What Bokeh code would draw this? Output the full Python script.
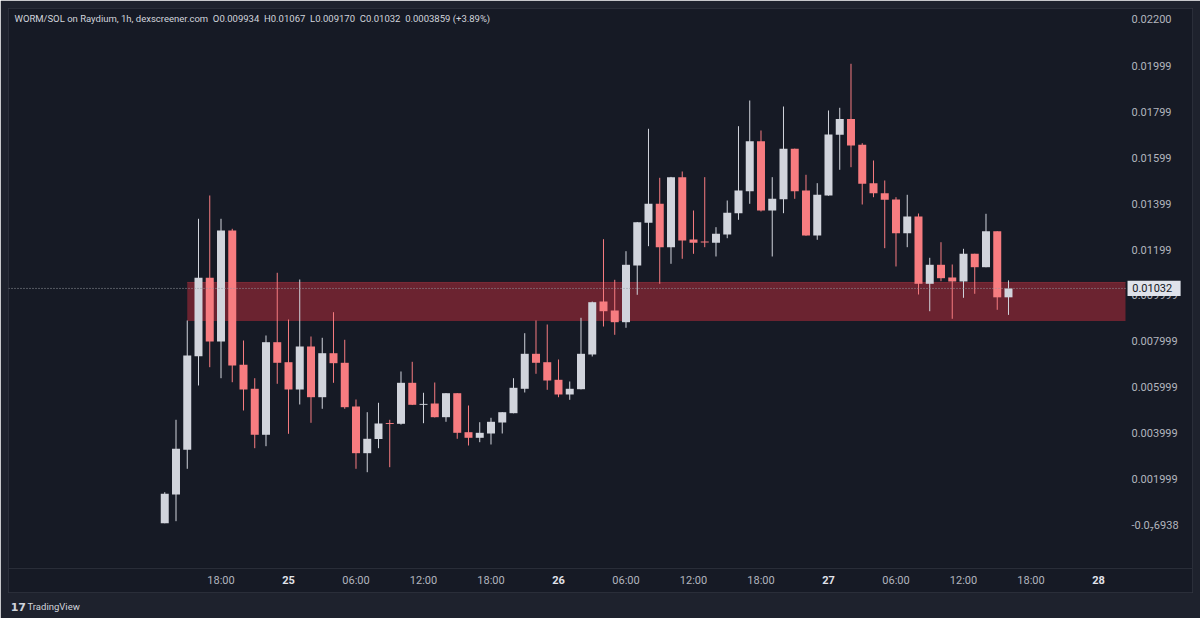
from bokeh.plotting import figure
from bokeh.models import Range1d, FixedTicker, Span, Label, BoxAnnotation, ColumnDataSource
from bokeh.core.properties import value
from bokeh.embed import file_html
from bokeh.resources import INLINE

# hours relative to 25th 00:00 (1h candles, 24th 13:00 .. 27th 16:00)
hours = list(range(-11, 65))

opens = [0.000113, 0.001361, 0.003304, 0.007374, 0.010783, 0.008013, 0.012839, 0.007000, 0.005957, 0.003957,
         0.007983, 0.007113, 0.005926, 0.007796, 0.005591, 0.007504, 0.007087, 0.005187, 0.003157, 0.003774,
         0.004470, 0.004435, 0.006217, 0.005260, 0.005317, 0.004722, 0.005765, 0.004070, 0.003826, 0.004013,
         0.004491, 0.004896, 0.005957, 0.007478, 0.007113, 0.006348, 0.005709, 0.005939, 0.007448, 0.009752,
         0.009361, 0.008852, 0.011317, 0.013174, 0.014000, 0.012113, 0.015157, 0.012448, 0.012361, 0.012304,
         0.012665, 0.013591, 0.014548, 0.016722, 0.013709, 0.014200, 0.016391, 0.014578, 0.012622, 0.014361,
         0.017000, 0.017687, 0.016565, 0.014896, 0.014461, 0.014187, 0.012722, 0.013448, 0.010522, 0.011348,
         0.010796, 0.010622, 0.011826, 0.011243, 0.012809, 0.009934]
highs = [0.001461, 0.004609, 0.008926, 0.013348, 0.014361, 0.013348, 0.012913, 0.008057, 0.006417, 0.008274,
         0.011000, 0.008970, 0.010709, 0.008230, 0.008174, 0.009287, 0.008087, 0.005491, 0.004939, 0.005348,
         0.004609, 0.006709, 0.007130, 0.005783, 0.006230, 0.005770, 0.005770, 0.005230, 0.004504, 0.004696,
         0.004945, 0.006417, 0.008374, 0.008926, 0.008752, 0.007230, 0.006274, 0.009043, 0.009750, 0.012461,
         0.010696, 0.011939, 0.013210, 0.017261, 0.015130, 0.015170, 0.015404, 0.013709, 0.015157, 0.012983,
         0.014143, 0.017374, 0.018491, 0.017187, 0.015157, 0.018230, 0.016400, 0.015261, 0.014896, 0.018057,
         0.018174, 0.020087, 0.016635, 0.015883, 0.015013, 0.014287, 0.014391, 0.013578, 0.011652, 0.012330,
         0.011361, 0.012043, 0.011830, 0.013565, 0.012810, 0.010670]
lows = [0.000110, 0.000200, 0.002478, 0.006100, 0.006896, 0.006417, 0.006243, 0.005013, 0.003374, 0.003461,
        0.006174, 0.004000, 0.005274, 0.004478, 0.005087, 0.006217, 0.005087, 0.002478, 0.002330, 0.003374,
        0.002548, 0.004400, 0.005250, 0.004461, 0.004710, 0.004522, 0.003783, 0.003491, 0.003635, 0.003535,
        0.004013, 0.004890, 0.005796, 0.006609, 0.005913, 0.005591, 0.005478, 0.005930, 0.007361, 0.008665,
        0.008304, 0.008609, 0.010043, 0.012157, 0.010522, 0.011391, 0.011609, 0.011826, 0.012113, 0.011709,
        0.012504, 0.013304, 0.014000, 0.013665, 0.011709, 0.013591, 0.014217, 0.012610, 0.012435, 0.014350,
        0.015478, 0.015591, 0.013970, 0.014287, 0.012070, 0.011274, 0.012113, 0.010057, 0.009330, 0.010635,
        0.009000, 0.009913, 0.010087, 0.011240, 0.009391, 0.009170]
closes = [0.001391, 0.003348, 0.007404, 0.010783, 0.008013, 0.012839, 0.006970, 0.005926, 0.003957, 0.007983,
          0.007087, 0.005926, 0.007796, 0.005591, 0.007504, 0.007070, 0.005157, 0.003157, 0.003783, 0.004448,
          0.004430, 0.006217, 0.005261, 0.005300, 0.004722, 0.005765, 0.004043, 0.003826, 0.004043, 0.004522,
          0.004939, 0.006000, 0.007478, 0.007087, 0.006317, 0.005709, 0.005957, 0.007478, 0.009722, 0.009330,
          0.008852, 0.011348, 0.013200, 0.014000, 0.012113, 0.015157, 0.012404, 0.012304, 0.012317, 0.012696,
          0.013609, 0.014578, 0.016722, 0.013709, 0.014217, 0.016391, 0.014548, 0.012622, 0.014391, 0.017013,
          0.017687, 0.016535, 0.014870, 0.014461, 0.014174, 0.012722, 0.013448, 0.010522, 0.011348, 0.010765,
          0.010622, 0.011826, 0.011243, 0.012809, 0.009934, 0.010320]

zone_start_hour = -9
zone_top = 0.01058
zone_bottom = 0.00890
last_price = 0.01032

x_tick_hours = [-6, 0, 6, 12, 18, 24, 30, 36, 42, 48, 54, 60, 66, 72]
x_tick_labels = ["18:00", "25", "06:00", "12:00", "18:00", "26", "06:00", "12:00", "18:00", "27",
                 "06:00", "12:00", "18:00", "28"]
day_ticks = [0, 24, 48, 72]
day_labels = ["25", "26", "27", "28"]

y_tick_values = [-0.00000006938, 0.001999, 0.003999, 0.005999, 0.007999, 0.009999,
                 0.01199, 0.01399, 0.01599, 0.01799, 0.01999, 0.022]
y_tick_labels = ["-0.0\u20876938", "0.001999", "0.003999", "0.005999", "0.007999", "0.009999",
                 "0.01199", "0.01399", "0.01599", "0.01799", "0.01999", "0.02200"]

SP = "\u00a0\u00a0"
title_text = ("WORM/SOL on Raydium, 1h, dexscreener.com" + SP + "O0.009934" + SP + "H0.01067" + SP +
              "L0.009170" + SP + "C0.01032" + SP + "0.0003859 (+3.89%)")

UP = "#d1d4dc"
DOWN = "#f77c80"
PANEL = "#161a25"
OUTER = "#1e222d"
TXT = "#b2b5be"
FONT = "Roboto"

# layout of the chart panel in data units
X0, X1 = -24.889, 80.356        # whole panel (chart + price scale)
PLOT_RIGHT = 74.4               # end of chart area / start of price scale
Y0, Y1 = -0.0029, 0.022491      # whole panel (time scale + chart)
TIME_SEP = -0.0018565           # separator between chart and time scale

colors = [UP if c >= o else DOWN for o, c in zip(opens, closes)]
tops = [max(o, c) for o, c in zip(opens, closes)]
bottoms = [min(o, c) for o, c in zip(opens, closes)]
src = ColumnDataSource(dict(x=hours, o=opens, h=highs, l=lows, c=closes,
                            top=tops, bottom=bottoms, color=colors))

p = figure(width=1200, height=618, output_backend="svg", toolbar_location=None,
           x_range=Range1d(X0, X1), y_range=Range1d(Y0, Y1),
           y_axis_location="right", min_border_left=8, min_border_top=8,
           min_border_right=8, min_border_bottom=26)
p.background_fill_color = PANEL
p.border_fill_color = OUTER
p.outline_line_color = "#2a2e39"
p.grid.visible = False

# demand zone
p.quad(left=[zone_start_hour], right=[PLOT_RIGHT], top=[zone_top], bottom=[zone_bottom],
       fill_color="#6b2330", line_color=None)
p.segment(x0=[zone_start_hour], x1=[PLOT_RIGHT], y0=[zone_top], y1=[zone_top],
          line_color="#7c2a37", line_width=1)

# candles
p.segment(x0="x", x1="x", y0="l", y1="h", line_color="color", line_width=1, source=src)
p.vbar(x="x", width=0.71, top="top", bottom="bottom", fill_color="color", line_color=None, source=src)

# last price dotted line
p.segment(x0=[X0], x1=[PLOT_RIGHT], y0=[last_price], y1=[last_price], line_color="#9598a1",
          line_dash="1 2", line_width=1)

# separator above time scale
p.add_layout(Span(location=TIME_SEP, dimension="width", line_color="#2a2e39", line_width=1))

# axes (labels drawn inside the panel like TradingView scales)
xa = p.xaxis[0]
xa.ticker = FixedTicker(ticks=x_tick_hours)
xa.major_label_overrides = {h: ("" if h in day_ticks else lab) for h, lab in zip(x_tick_hours, x_tick_labels)}
ya = p.yaxis[0]
ya.ticker = FixedTicker(ticks=y_tick_values)
ya.major_label_overrides = {v: lab for v, lab in zip(y_tick_values, y_tick_labels)}
for ax in (xa, ya):
    ax.axis_line_color = None
    ax.major_tick_line_color = None
    ax.minor_tick_line_color = None
    ax.major_tick_out = 0
    ax.major_tick_in = 0
    ax.minor_tick_out = 0
    ax.minor_tick_in = 0
    ax.major_label_text_color = TXT
    ax.major_label_text_font = FONT
    ax.major_label_text_font_size = "11px"
xa.major_label_standoff = -19
ya.major_label_standoff = -61

# bold day labels on the time scale
day_src = ColumnDataSource(dict(x=day_ticks, y=[-0.00237] * len(day_ticks), t=day_labels))
p.text(x="x", y="y", text="t", source=day_src, text_align="center", text_baseline="middle",
       text_font=value(FONT), text_font_size="11px", text_font_style="bold", text_color="#e1e3ea")

# last price tag on the price scale
p.add_layout(BoxAnnotation(left=74.58, right=79.3, bottom=last_price - 0.00033, top=last_price + 0.00033,
                           fill_color="#dfe2ea", fill_alpha=1, line_color=None, level="overlay"))
p.add_layout(Label(x=75.0, y=last_price, text="0.01032", text_align="left", text_baseline="middle",
                   text_font=FONT, text_font_size="11px", text_color="#131722", level="overlay"))

# legend line
p.add_layout(Label(x=-24.36, y=0.02206, text=title_text, text_align="left", text_baseline="middle",
                   text_font=FONT, text_font_size="9.5px", text_color="#d1d4dc", level="overlay"))

# TradingView mark below the panel
p.add_layout(Label(x=-24.7, y=-0.00351, text="17", text_align="left", text_baseline="middle",
                   text_font="DejaVu Sans", text_font_size="11px", text_font_style="bold",
                   text_color="#d1d4dc"), "below")
p.add_layout(Label(x=-23.2, y=-0.00351, text="TradingView", text_align="left", text_baseline="middle",
                   text_font=FONT, text_font_size="9.5px", text_color="#d1d4dc"), "below")

open("out.html", "w").write(file_html(p, INLINE))
